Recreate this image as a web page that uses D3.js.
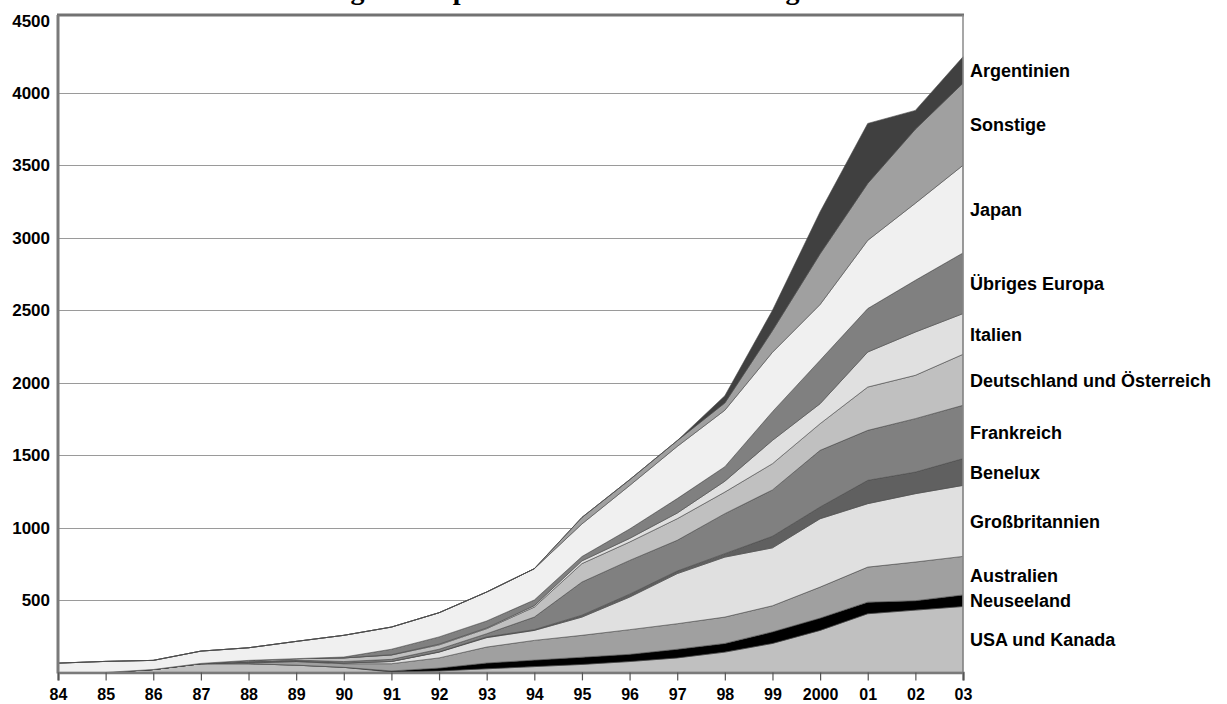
<!DOCTYPE html>
<html><head><meta charset="utf-8">
<script src="https://cdn.jsdelivr.net/npm/d3@7"></script>
<style>body{margin:0;background:#fff;} svg{display:block;}</style>
</head><body>
<svg id="chart" width="1227" height="704"></svg>
<script>
// ---- data ----
const years = ["84","85","86","87","88","89","90","91","92","93","94","95","96","97","98","99","2000","01","02","03"];
const usaKanada      = [0,0,20,60,60,50,35,3,10,25,40,55,75,100,140,200,290,405,430,455];
const neuseeland     = [0,0,0,0,0,0,0,7,20,40,45,50,50,60,60,80,85,80,65,80];
const australien     = [0,0,0,0,5,25,25,50,70,110,136,151,170,176,182,180,214,242,267,266];
const grossbritannien= [0,0,0,0,5,3,5,15,40,65,69,126,225,346,414,400,472,438,472,490];
const benelux        = [0,0,0,0,0,0,0,1,2,5,5,13,20,18,24,80,81,161,149,185];
const frankreich     = [0,0,0,0,5,7,10,14,18,22,87,229,233,212,276,320,391,345,369,368];
const deutschOesterr = [0,0,0,2,8,10,25,30,30,35,69,127,127,149,149,181,184,299,299,352];
const italien        = [0,0,0,0,0,0,0,2,5,5,10,19,25,39,75,161,138,242,299,281];
const uebrigesEuropa = [0,0,0,0,0,0,6,38,50,48,39,30,65,100,100,198,300,300,357,419];
const japan          = [64,76,63,85,87,119,150,153,167,200,216,225,300,360,390,410,385,471,532,605];
const sonstige       = [0,0,0,0,0,0,0,0,0,0,0,45,40,40,50,150,350,393,511,567];
const argentinien    = [0,0,0,0,0,0,0,0,0,0,0,0,0,0,50,140,290,414,130,182];

const seriesNames = ["USA und Kanada","Neuseeland","Australien","Großbritannien","Benelux","Frankreich",
  "Deutschland und Österreich","Italien","Übriges Europa","Japan","Sonstige","Argentinien"];
const seriesValues = [usaKanada,neuseeland,australien,grossbritannien,benelux,frankreich,
  deutschOesterr,italien,uebrigesEuropa,japan,sonstige,argentinien];
const seriesColors = ["#c0c0c0","#000000","#a0a0a0","#e0e0e0","#606060","#808080",
  "#c0c0c0","#e0e0e0","#808080","#f0f0f0","#a0a0a0","#404040"];
const yTicks = [500,1000,1500,2000,2500,3000,3500,4000,4500];
const titleText = "Entwicklung der Importe nach Ländern und Regionen";

// ---- build ----
const rows = years.map((yr,i)=>{
  const r = {year: yr};
  seriesNames.forEach((n,k)=>{ r[n] = seriesValues[k][i]; });
  return r;
});
const stacked = d3.stack().keys(seriesNames)(rows);

const svg = d3.select("#chart");
const plotLeft = 58, plotRight = 963, plotTop = 15;
const x = d3.scalePoint().domain(years).range([plotLeft, plotRight]);
const y = d3.scaleLinear().domain([0, 4500]).range([672.4, 20.6]);
const plotBottom = y(0);

// title (cut off at the top edge, as in the original: only descenders show)
svg.append("text").attr("x", 212).attr("y", -1)
  .attr("font-family", "'Liberation Serif','Times New Roman',serif")
  .attr("font-weight", "bold").attr("font-size", 28).attr("fill", "#000")
  .text(titleText);

// gridlines
svg.append("g").selectAll("line").data(yTicks.filter(t=>t<4500)).join("line")
  .attr("x1", plotLeft).attr("x2", plotRight)
  .attr("y1", d=>Math.round(y(d))+0.5).attr("y2", d=>Math.round(y(d))+0.5)
  .attr("stroke", "#9a9a9a").attr("stroke-width", 1.2);

// areas
const area = d3.area()
  .x(d=>x(d.data.year))
  .y0(d=>y(d[0])).y1(d=>y(d[1]));
svg.append("g").selectAll("path").data(stacked).join("path")
  .attr("d", area)
  .attr("fill", (d,i)=>seriesColors[i])
  .attr("stroke", "#4a4a4a").attr("stroke-width", 0.6)
  .attr("stroke-linejoin", "round");

// frame
svg.append("line").attr("x1", plotLeft-1).attr("x2", plotRight+1).attr("y1", plotTop).attr("y2", plotTop)
  .attr("stroke", "#727272").attr("stroke-width", 3);
svg.append("line").attr("x1", plotLeft).attr("x2", plotLeft).attr("y1", plotTop).attr("y2", plotBottom+1)
  .attr("stroke", "#7a7a7a").attr("stroke-width", 3);
svg.append("line").attr("x1", plotRight).attr("x2", plotRight).attr("y1", plotTop).attr("y2", plotBottom)
  .attr("stroke", "#8a8a8a").attr("stroke-width", 1.5);

// x axis
const xAxis = d3.axisBottom(x).tickSize(8).tickPadding(8);
const gx = svg.append("g").attr("transform", `translate(0,${plotBottom})`).call(xAxis);
gx.select(".domain").attr("stroke", "#7a7a7a").attr("stroke-width", 2.5);
gx.selectAll(".tick line").attr("stroke", "#555").attr("stroke-width", 1.2);
gx.selectAll(".tick text")
  .attr("font-family", "'Liberation Sans',Arial,sans-serif").attr("font-weight", "bold")
  .attr("font-size", 16).attr("fill", "#000");

// y axis labels
const yAxis = d3.axisLeft(y).tickValues(yTicks).tickFormat(d3.format("d")).tickSize(0).tickPadding(8);
const gy = svg.append("g").attr("transform", `translate(${plotLeft},0)`).call(yAxis);
gy.select(".domain").remove();
gy.selectAll(".tick text")
  .attr("font-family", "'Liberation Sans',Arial,sans-serif").attr("font-weight", "bold")
  .attr("font-size", 17).attr("fill", "#000");

// right-hand series labels at the middle of each layer in the last year
const last = years.length - 1;
svg.append("g").selectAll("text").data(stacked).join("text")
  .attr("x", 970)
  .attr("y", d=>y((d[last][0]+d[last][1])/2) + 2)
  .attr("dominant-baseline", "middle")
  .attr("font-family", "'Liberation Sans',Arial,sans-serif").attr("font-weight", "bold")
  .attr("font-size", 18).attr("fill", "#000")
  .text(d=>d.key);
</script>
</body></html>
